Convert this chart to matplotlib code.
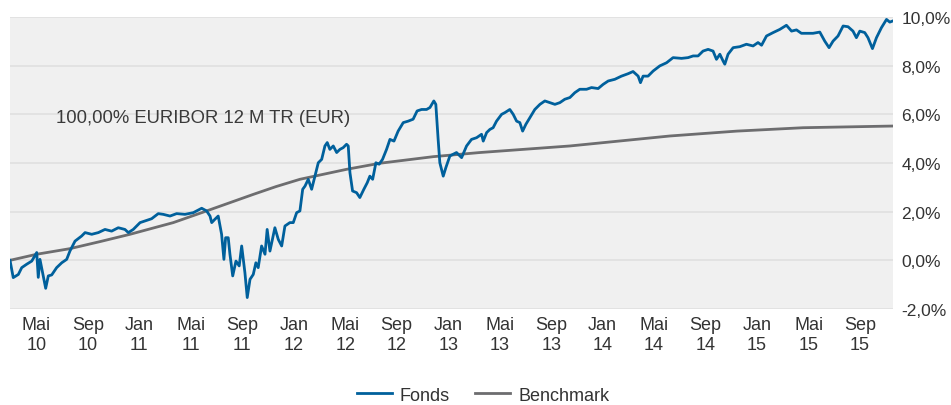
"""
Gráfico de evolución: Fonds frente a Benchmark (EURIBOR 12 M TR).
"""

import matplotlib.pyplot as plt

# Datos (año decimal, rentabilidad acumulada en %)
fondo_t = [
    2010.163, 2010.184, 2010.217, 2010.239, 2010.271, 2010.304, 2010.336, 2010.346,
    2010.357, 2010.372, 2010.394, 2010.411, 2010.433, 2010.465, 2010.498, 2010.530,
    2010.551, 2010.584, 2010.627, 2010.649, 2010.692, 2010.735, 2010.778, 2010.821,
    2010.864, 2010.907, 2010.929, 2010.961, 2011.005, 2011.037, 2011.080, 2011.123,
    2011.155, 2011.199, 2011.242, 2011.296, 2011.350, 2011.404, 2011.436, 2011.458,
    2011.469, 2011.490, 2011.511, 2011.533, 2011.548, 2011.559, 2011.576, 2011.587,
    2011.605, 2011.626, 2011.647, 2011.663, 2011.684, 2011.699, 2011.717, 2011.738,
    2011.755, 2011.770, 2011.792, 2011.814, 2011.828, 2011.846, 2011.878, 2011.900,
    2011.922, 2011.943, 2011.975, 2011.997, 2012.019, 2012.040, 2012.058, 2012.073,
    2012.094, 2012.116, 2012.137, 2012.159, 2012.181, 2012.202, 2012.217, 2012.234,
    2012.256, 2012.278, 2012.299, 2012.320, 2012.342, 2012.353, 2012.364, 2012.381,
    2012.407, 2012.428, 2012.454, 2012.476, 2012.493, 2012.511, 2012.532, 2012.553,
    2012.575, 2012.601, 2012.623, 2012.649, 2012.676, 2012.709, 2012.741, 2012.773,
    2012.799, 2012.828, 2012.860, 2012.882, 2012.907, 2012.920, 2012.935, 2012.946,
    2012.968, 2012.985, 2013.011, 2013.054, 2013.087, 2013.119, 2013.151, 2013.184,
    2013.216, 2013.227, 2013.249, 2013.270, 2013.291, 2013.313, 2013.346, 2013.367,
    2013.399, 2013.421, 2013.443, 2013.464, 2013.482, 2013.503, 2013.529, 2013.561,
    2013.594, 2013.626, 2013.658, 2013.691, 2013.723, 2013.755, 2013.788, 2013.820,
    2013.852, 2013.896, 2013.928, 2013.971, 2014.003, 2014.036, 2014.079, 2014.122,
    2014.165, 2014.197, 2014.230, 2014.245, 2014.262, 2014.294, 2014.327, 2014.370,
    2014.414, 2014.456, 2014.511, 2014.553, 2014.586, 2014.618, 2014.650, 2014.683,
    2014.715, 2014.737, 2014.759, 2014.780, 2014.791, 2014.812, 2014.845, 2014.888,
    2014.931, 2014.974, 2015.006, 2015.029, 2015.061, 2015.104, 2015.147, 2015.190,
    2015.223, 2015.255, 2015.287, 2015.320, 2015.362, 2015.406, 2015.438, 2015.466,
    2015.492, 2015.524, 2015.557, 2015.589, 2015.621, 2015.643, 2015.665, 2015.697,
    2015.718, 2015.747, 2015.773, 2015.805, 2015.838, 2015.859, 2015.880,
]
fondo_v = [
    0.00, -0.71, -0.58, -0.30, -0.16, -0.03, 0.32, -0.70,
    0.04, -0.44, -1.15, -0.64, -0.60, -0.30, -0.10, 0.04,
    0.38, 0.79, 1.00, 1.14, 1.07, 1.14, 1.27, 1.20,
    1.34, 1.27, 1.14, 1.27, 1.55, 1.62, 1.71, 1.92,
    1.89, 1.82, 1.92, 1.89, 1.96, 2.14, 2.03, 1.82,
    1.55, 1.69, 1.82, 1.07, 0.04, 0.93, 0.93, 0.25,
    -0.64, -0.03, -0.23, 0.59, -0.51, -1.53, -0.78, -0.58,
    -0.10, -0.30, 0.59, 0.25, 1.27, 0.38, 1.34, 0.86,
    0.59, 1.41, 1.55, 1.55, 1.96, 2.03, 2.92, 3.05,
    3.33, 2.92, 3.46, 4.01, 4.15, 4.70, 4.84, 4.56,
    4.70, 4.43, 4.56, 4.63, 4.77, 4.70, 3.60, 2.85,
    2.78, 2.58, 2.92, 3.19, 3.46, 3.33, 4.01, 3.95,
    4.15, 4.56, 4.97, 4.90, 5.31, 5.66, 5.72, 5.80,
    6.14, 6.20, 6.20, 6.28, 6.55, 6.41, 4.97, 4.01,
    3.46, 3.81, 4.29, 4.43, 4.22, 4.70, 4.97, 5.04,
    5.18, 4.90, 5.25, 5.38, 5.45, 5.72, 6.00, 6.07,
    6.20, 6.00, 5.72, 5.66, 5.31, 5.59, 5.86, 6.20,
    6.41, 6.55, 6.48, 6.41, 6.48, 6.62, 6.69, 6.89,
    7.03, 7.03, 7.10, 7.06, 7.23, 7.37, 7.44, 7.57,
    7.67, 7.76, 7.57, 7.30, 7.57, 7.57, 7.78, 7.99,
    8.12, 8.33, 8.30, 8.33, 8.40, 8.40, 8.60, 8.67,
    8.60, 8.26, 8.47, 8.19, 8.06, 8.47, 8.74, 8.78,
    8.88, 8.81, 8.95, 8.84, 9.22, 9.36, 9.49, 9.66,
    9.42, 9.47, 9.33, 9.33, 9.33, 9.38, 9.01, 8.74,
    9.01, 9.22, 9.63, 9.60, 9.42, 9.15, 9.42, 9.36,
    9.15, 8.70, 9.15, 9.56, 9.90, 9.79, 9.84,
]

bench_t = [
    2010.163, 2010.336, 2010.551, 2010.746, 2010.940, 2011.220, 2011.436, 2011.587,
    2011.738, 2011.885, 2012.040, 2012.342, 2012.558, 2012.903, 2013.205, 2013.788,
    2014.435, 2014.867, 2015.298, 2015.885,
]
bench_v = [
    0.00, 0.25, 0.48, 0.77, 1.07, 1.55, 2.03, 2.37,
    2.71, 3.03, 3.33, 3.74, 3.99, 4.26, 4.43, 4.70,
    5.11, 5.31, 5.45, 5.52,
]

# Etiquetas del eje X (mes, año)
meses = ['Mai', 'Sep', 'Jan'] * 6
anios = [2010, 2010, 2011, 2011, 2011, 2012, 2012, 2012, 2013,
         2013, 2013, 2014, 2014, 2014, 2015, 2015, 2015]
num_mes = {'Jan': 1, 'Mai': 5, 'Sep': 9}

y_ticks = [-2, 0, 2, 4, 6, 8, 10]

plt.rcParams['font.family'] = ['Liberation Sans', 'DejaVu Sans']

fig = plt.figure(figsize=(9.51, 4.06), dpi=100)
ax = fig.add_axes([10 / 951, 96 / 406, 883 / 951, 292 / 406])
ax.set_facecolor('#f0f0f0')

# Líneas
ax.plot(bench_t, bench_v, color='#6d6d6f', linewidth=2.0, label='Benchmark', zorder=3)
ax.plot(fondo_t, fondo_v, color='#00609c', linewidth=2.0, label='Fonds', zorder=4)

ax.set_xlim(2010.163, 2015.880)
ax.set_ylim(-2, 10)

# Eje X
pos_x = [a + (num_mes[m] - 1) / 12 for m, a in zip(meses, anios)]
ax.set_xticks(pos_x)
ax.set_xticklabels([f"{m}\n{a % 100:02d}" for m, a in zip(meses, anios)],
                   fontsize=13, color='#333333', linespacing=1.2)
ax.tick_params(axis='x', length=0, pad=5)

# Eje Y a la derecha
ax.yaxis.tick_right()
ax.set_yticks(y_ticks)
ax.set_yticklabels([f"{v:.1f}%".replace('.', ',') for v in y_ticks],
                   fontsize=12.5, color='#333333')
ax.tick_params(axis='y', length=0, pad=6)

ax.grid(axis='y', color='#e0e0e0', linewidth=1.2)
ax.set_axisbelow(True)
for s in ax.spines.values():
    s.set_visible(False)

# Texto del benchmark
ax.text(2010.46, 5.88, '100,00% EURIBOR 12 M TR (EUR)', fontsize=13.3,
        color='#3a3a3a', va='center', ha='left')

# Leyenda inferior
handles, labels = ax.get_legend_handles_labels()
fig.legend(handles[::-1], labels[::-1], loc='lower center', ncol=2, frameon=False,
           fontsize=13, handlelength=1.95, handletextpad=0.45, columnspacing=1.4,
           bbox_to_anchor=(0.508, -0.037), labelcolor='#333333')

plt.savefig('out.png', dpi=100)
